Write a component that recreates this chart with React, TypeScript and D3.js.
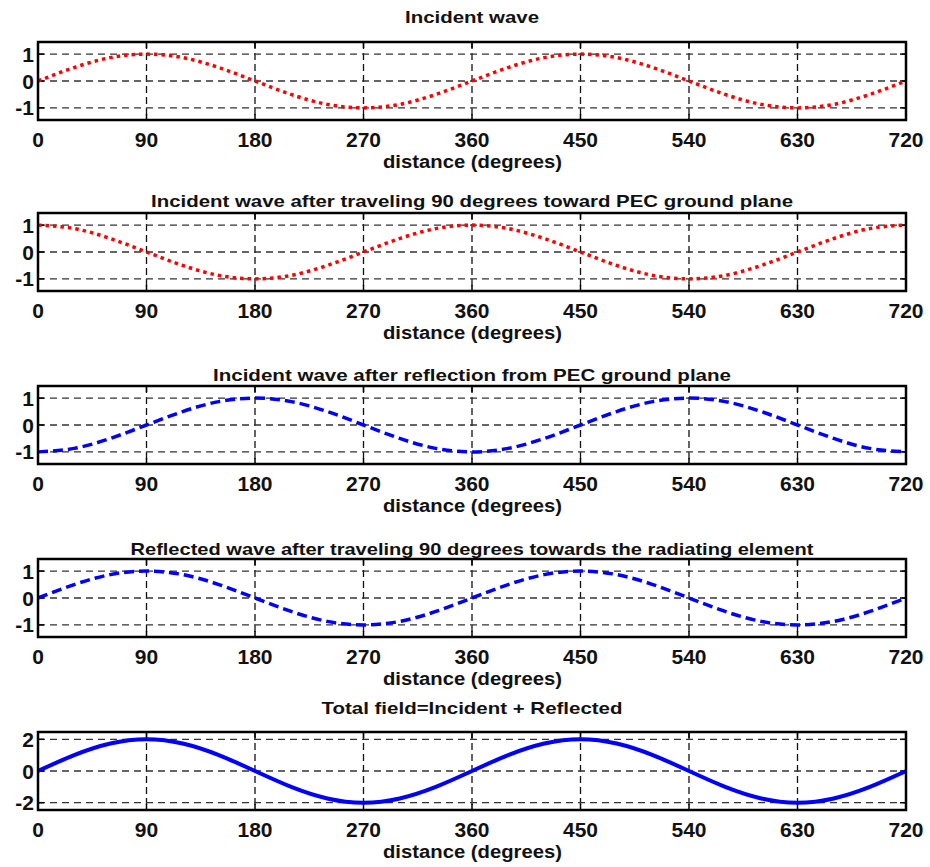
import React from 'react';
import * as d3 from 'd3';

// distance samples (degrees) and wave values
const degrees = [0, 30, 60, 90, 120, 150, 180, 210, 240, 270, 300, 330, 360, 390, 420, 450, 480, 510, 540, 570, 600, 630, 660, 690, 720];
const incident = [0, 0.5, 0.87, 1, 0.87, 0.5, 0, -0.5, -0.87, -1, -0.87, -0.5, 0, 0.5, 0.87, 1, 0.87, 0.5, 0, -0.5, -0.87, -1, -0.87, -0.5, 0];
const incidentTravelled = [1, 0.87, 0.5, 0, -0.5, -0.87, -1, -0.87, -0.5, 0, 0.5, 0.87, 1, 0.87, 0.5, 0, -0.5, -0.87, -1, -0.87, -0.5, 0, 0.5, 0.87, 1];
const reflected = [-1, -0.87, -0.5, 0, 0.5, 0.87, 1, 0.87, 0.5, 0, -0.5, -0.87, -1, -0.87, -0.5, 0, 0.5, 0.87, 1, 0.87, 0.5, 0, -0.5, -0.87, -1];
const reflectedTravelled = [0, 0.5, 0.87, 1, 0.87, 0.5, 0, -0.5, -0.87, -1, -0.87, -0.5, 0, 0.5, 0.87, 1, 0.87, 0.5, 0, -0.5, -0.87, -1, -0.87, -0.5, 0];
const totalField = [0, 1, 1.73, 2, 1.73, 1, 0, -1, -1.73, -2, -1.73, -1, 0, 1, 1.73, 2, 1.73, 1, 0, -1, -1.73, -2, -1.73, -1, 0];

const xTicks = [0, 90, 180, 270, 360, 450, 540, 630, 720];
const yTicksUnit = [-1, 0, 1];
const yTicksTotal = [-2, 0, 2];

const titles = [
  'Incident wave',
  'Incident wave after traveling 90 degrees toward PEC ground plane',
  'Incident wave after reflection from PEC ground plane',
  'Reflected wave after traveling 90 degrees towards the radiating element',
  'Total field=Incident + Reflected',
];
const titleWidths = [134, 642, 518, 683, 301];
const xLabel = 'distance (degrees)';

const W = 930;
const H = 867;
const left = 38;
const right = 906;
const boxH = 78;
const tops = [42, 213, 386, 559, 732];
const titleY = [17, 201, 375, 549, 708];

const font = '"Liberation Sans", Arial, sans-serif';

interface PanelProps {
  idx: number;
  values: number[];
  yTicks: number[];
  color: string;
  dash: string | null;
  width: number;
}

const Panel: React.FC<PanelProps> = ({ idx, values, yTicks, color, dash, width }) => {
  const top = tops[idx];
  const bottom = top + boxH;
  // a little headroom above/below the outer grid lines, as in the source
  const ymax = yTicks[2] === 2 ? 2.46 : 1.45;
  const x = d3.scaleLinear().domain([0, 720]).range([left, right]);
  const y = d3.scaleLinear().domain([-ymax, ymax]).range([bottom, top]);
  const line = d3
    .line<number>()
    .x((_, i) => x(degrees[i]))
    .y((d) => y(d))
    .curve(d3.curveNatural);
  const clipId = `clip${idx}`;
  return (
    <g>
      <defs>
        <clipPath id={clipId}>
          <rect x={left} y={top} width={right - left} height={boxH} />
        </clipPath>
      </defs>
      {/* grid */}
      {xTicks.slice(1, -1).map((t) => (
        <line key={'vx' + t} x1={x(t)} x2={x(t)} y1={top} y2={bottom} stroke="#111" strokeWidth={1.3} strokeDasharray="7,4" />
      ))}
      {yTicks.map((t) => (
        <line key={'hy' + t} x1={left} x2={right} y1={y(t)} y2={y(t)} stroke="#333" strokeWidth={1.3} strokeDasharray="7,5" />
      ))}
      {/* ticks */}
      {xTicks.map((t) => (
        <g key={'tx' + t}>
          <line x1={x(t)} x2={x(t)} y1={bottom} y2={bottom - 6} stroke="#000" strokeWidth={1.5} />
          <line x1={x(t)} x2={x(t)} y1={top} y2={top + 6} stroke="#000" strokeWidth={1.5} />
          <text x={x(t)} y={bottom + 19} textAnchor="middle" dominantBaseline="central" fontFamily={font} fontWeight="bold" fontSize={21} fill="#111">
            {t}
          </text>
        </g>
      ))}
      {yTicks.map((t) => (
        <g key={'ty' + t}>
          <line x1={left} x2={left + 6} y1={y(t)} y2={y(t)} stroke="#000" strokeWidth={1.5} />
          <line x1={right} x2={right - 6} y1={y(t)} y2={y(t)} stroke="#000" strokeWidth={1.5} />
          <text x={left - 4} y={y(t)} textAnchor="end" dominantBaseline="central" fontFamily={font} fontWeight="bold" fontSize={21} fill="#111">
            {t}
          </text>
        </g>
      ))}
      {/* data */}
      <path
        d={line(values) || ''}
        fill="none"
        stroke={color}
        strokeWidth={width}
        strokeDasharray={dash || undefined}
        clipPath={`url(#${clipId})`}
      />
      {/* box */}
      <rect x={left} y={top} width={right - left} height={boxH} fill="none" stroke="#000" strokeWidth={2.5} />
      {/* labels */}
      <text
        x={(left + right) / 2}
        y={titleY[idx]}
        textAnchor="middle"
        dominantBaseline="central"
        fontFamily={font}
        fontWeight="bold"
        fontSize={17}
        fill="#111"
        textLength={titleWidths[idx]}
        lengthAdjust="spacingAndGlyphs"
      >
        {titles[idx]}
      </text>
      <text
        x={(left + right) / 2 + 0.5}
        y={bottom + 42}
        textAnchor="middle"
        dominantBaseline="central"
        fontFamily={font}
        fontWeight="bold"
        fontSize={18}
        fill="#111"
        textLength={179}
        lengthAdjust="spacingAndGlyphs"
      >
        {xLabel}
      </text>
    </g>
  );
};

export default function App() {
  return (
    <svg width={W} height={H} style={{ position: 'absolute', left: 0, top: 0, background: '#fff' }}>
      <rect width={W} height={H} fill="#fff" />
      <Panel idx={0} values={incident} yTicks={yTicksUnit} color="#ff0000" dash="3.5,4" width={3.5} />
      <Panel idx={1} values={incidentTravelled} yTicks={yTicksUnit} color="#ff0000" dash="3.5,4" width={3.5} />
      <Panel idx={2} values={reflected} yTicks={yTicksUnit} color="#0000ff" dash="10,5" width={3.5} />
      <Panel idx={3} values={reflectedTravelled} yTicks={yTicksUnit} color="#0000ff" dash="10,5" width={3.5} />
      <Panel idx={4} values={totalField} yTicks={yTicksTotal} color="#0000ff" dash={null} width={4} />
    </svg>
  );
}
